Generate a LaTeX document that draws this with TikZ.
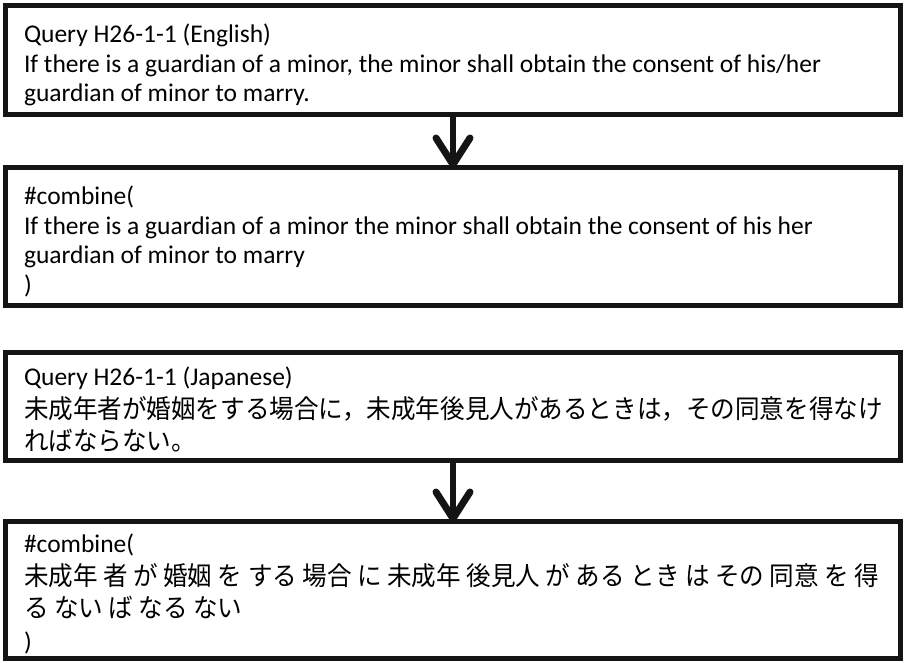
\documentclass[tikz,border=0pt]{standalone}
\usepackage{fontspec}
\setmainfont{Carlito}
\newfontfamily\jpfont[FakeStretch=0.945]{Noto Sans CJK JP}
\newfontfamily\enfont{Carlito}
\begin{document}
\begin{tikzpicture}[x=1pt,y=1pt,
  boxframe/.style={draw=black!92,line width=5pt,rectangle,inner sep=0pt,outer sep=0pt,minimum width=895pt},
  boxtext/.style={anchor=north west,inner sep=0pt,outer sep=0pt,align=left,font=\enfont\fontsize{25.5}{29.5}\selectfont},
  jptext/.style={anchor=north west,inner sep=0pt,outer sep=0pt,align=left,font=\enfont\fontsize{25.5}{32.5}\selectfont},
  shaft/.style={draw=black!92,line width=5.5pt},
  chev/.style={draw=black!92,line width=7pt,line cap=round,line join=round}]
\useasboundingbox (0,0) rectangle (904,-662);
\fill[white] (0,0) rectangle (904,-662);
\node[boxframe,minimum height=109pt] (b1) at (453,-59.5) {};
\node[boxframe,minimum height=138pt] (b2) at (453,-236) {};
\node[boxframe,minimum height=108pt] (b3) at (453,-406) {};
\node[boxframe,minimum height=137pt] (b4) at (453,-589.5) {};
\node[boxtext] (t1) at (24,-24) {Query H26-1-1 (English)\\If there is a guardian of a minor, the minor shall obtain the consent of his/her\\guardian of minor to marry.};
\node[boxtext] (t2) at (24,-186) {\#combine(\\If there is a guardian of a minor the minor shall obtain the consent of his her\\guardian of minor to marry\\)};
\node[jptext] (t3) at (24,-367) {Query H26-1-1 (Japanese)\\{\jpfont\fontsize{26}{32.5}\selectfont 未成年者が婚姻をする場合に，未成年後見人があるときは，その同意を得なけ}\\{\jpfont\fontsize{26}{32.5}\selectfont ればならない。}};
\node[jptext] (t4) at (24,-534) {\#combine(\\{\jpfont\fontsize{26}{32.5}\selectfont 未成年 者 が 婚姻 を する 場合 に 未成年 後見人 が ある とき は その 同意 を 得}\\{\jpfont\fontsize{26}{32.5}\selectfont る ない ば なる ない}\\)};
\draw[shaft] (b1.south) -- (b2.north);
\draw[chev] ([shift={(-17,29)}]b2.north) -- ([yshift=2.5]b2.north) -- ([shift={(17,29)}]b2.north);
\draw[shaft] (b3.south) -- (b4.north);
\draw[chev] ([shift={(-17,29)}]b4.north) -- ([yshift=2.5]b4.north) -- ([shift={(17,29)}]b4.north);
\end{tikzpicture}
\end{document}
